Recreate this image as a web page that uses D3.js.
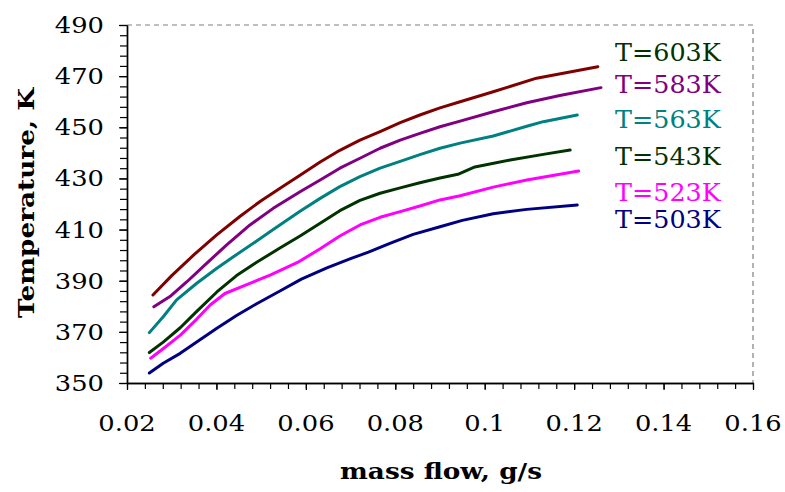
<!DOCTYPE html>
<html>
<head>
<meta charset="utf-8">
<script src="https://cdn.jsdelivr.net/npm/d3@7"></script>
<style>
  html, body { margin: 0; padding: 0; background: #fff; }
  svg { display: block; }
  text { font-family: "DejaVu Serif", "Liberation Serif", serif; }
</style>
</head>
<body>
<svg id="chart" width="785" height="492"></svg>
<script>
// Outlet temperature against mass flow, one series per inlet temperature.
// Each series is a list of [mass flow (g/s), temperature (K)] points.
const t603 = [[0.0258,384.4],[0.0300,392],[0.0350,400.2],[0.0400,407.8],[0.0453,415.2],[0.0500,421.3],[0.0550,427],[0.0587,431.2],[0.0632,436.4],[0.0676,441],[0.0721,445],[0.0766,448.3],[0.0811,451.8],[0.0855,454.8],[0.0900,457.6],[0.0945,460],[0.1019,463.9],[0.1116,469.2],[0.1253,473.7]];
const t583 = [[0.0260,379.8],[0.0296,383.8],[0.0334,389.6],[0.0378,396.8],[0.0423,404],[0.0475,411.8],[0.0527,418.3],[0.0587,424.8],[0.0632,429.4],[0.0676,434],[0.0721,437.9],[0.0766,441.8],[0.0811,445],[0.0855,447.6],[0.0900,450.2],[0.0945,452.4],[0.1019,456.1],[0.1094,459.6],[0.1168,462.4],[0.1260,465.5]];
const t563 = [[0.0250,369.7],[0.0281,375.9],[0.0311,382.5],[0.0356,389],[0.0401,394.9],[0.0438,399.4],[0.0490,405.5],[0.0527,410],[0.0587,417.2],[0.0632,422.2],[0.0676,426.8],[0.0721,430.7],[0.0766,434],[0.0811,436.7],[0.0855,439.3],[0.0900,441.8],[0.0945,443.8],[0.1019,446.6],[0.1094,450.4],[0.1131,452.2],[0.1207,454.8]];
const t543 = [[0.0250,361.9],[0.0281,366],[0.0319,371.6],[0.0356,378],[0.0401,385.6],[0.0445,392],[0.0490,397.2],[0.0542,402.8],[0.0587,407.5],[0.0632,412.5],[0.0676,417.4],[0.0721,421.4],[0.0766,424.2],[0.0811,426.3],[0.0855,428.3],[0.0900,430.2],[0.0940,431.6],[0.0978,434.5],[0.1057,437.2],[0.1131,439.4],[0.1191,441.1]];
const t523 = [[0.0253,359.7],[0.0285,364],[0.0320,368.8],[0.0356,375],[0.0386,380.5],[0.0419,385],[0.0468,388.5],[0.0520,392.2],[0.0585,397.5],[0.0632,402.5],[0.0676,407.5],[0.0721,411.8],[0.0766,414.8],[0.0811,417],[0.0855,419.2],[0.0900,421.6],[0.0945,423.2],[0.1019,426.6],[0.1094,429.4],[0.1210,432.9]];
const t503 = [[0.0250,353.9],[0.0281,357.7],[0.0319,361.6],[0.0360,366.5],[0.0401,371.4],[0.0445,376.4],[0.0490,381],[0.0542,386],[0.0590,390.6],[0.0647,395],[0.0700,398.6],[0.0740,401.2],[0.0788,404.6],[0.0840,408.1],[0.0900,411.1],[0.0950,413.6],[0.1019,416.2],[0.1094,417.9],[0.1207,419.6]];

const seriesNames  = ["T=603K", "T=583K", "T=563K", "T=543K", "T=523K", "T=503K"];
const seriesData   = [t603, t583, t563, t543, t523, t503];
const lineColors   = ["#800000", "#800080", "#008080", "#003300", "#ff00ff", "#000080"];
const labelColors  = ["#003300", "#800080", "#008080", "#003300", "#ff00ff", "#000080"];

const xTicks = [0.02, 0.04, 0.06, 0.08, 0.10, 0.12, 0.14, 0.16];
const xTickLabels = ["0.02", "0.04", "0.06", "0.08", "0.1", "0.12", "0.14", "0.16"];
const yTicks = [350, 370, 390, 410, 430, 450, 470, 490];

const svg = d3.select("#chart");

const x = d3.scaleLinear().domain([0.02, 0.16]).range([127, 753]);
const y = d3.scaleLinear().domain([350, 490]).range([383, 25]);

// dashed top and right frame of the plot area
svg.append("path")
  .attr("d", `M${x(0.02)},${y(490)}H${x(0.16)}V${y(350)}`)
  .attr("fill", "none")
  .attr("stroke", "#808080")
  .attr("stroke-width", 1.2)
  .attr("stroke-dasharray", "5,4");

// minor and major ticks
const xMinor = d3.range(0, 36).map(i => 0.02 + i * 0.004);
const yMinor = d3.range(0, 36).map(i => 350 + i * 4);

function styleAxis(g) {
  g.select(".domain").attr("stroke", "#000").attr("stroke-width", 1.4);
  g.selectAll(".tick line").attr("stroke", "#000").attr("stroke-width", 1.2);
  g.selectAll(".tick text").remove();
}

svg.append("g")
  .attr("transform", `translate(0,${y(350)})`)
  .call(d3.axisBottom(x).tickValues(xMinor).tickSize(6).tickSizeOuter(0))
  .call(styleAxis);
svg.append("g")
  .attr("transform", `translate(0,${y(350)})`)
  .call(d3.axisBottom(x).tickValues(xTicks).tickSize(7).tickSizeOuter(0))
  .call(styleAxis);

svg.append("g")
  .attr("transform", `translate(${x(0.02)},0)`)
  .call(d3.axisLeft(y).tickValues(yMinor).tickSize(7).tickSizeOuter(0))
  .call(styleAxis);
svg.append("g")
  .attr("transform", `translate(${x(0.02)},0)`)
  .call(d3.axisLeft(y).tickValues(yTicks).tickSize(8).tickSizeOuter(0))
  .call(styleAxis);

// tick labels, set in a slightly widened serif face
const stretch = 1.17;
svg.append("g").selectAll("g")
  .data(xTicks)
  .join("g")
  .attr("transform", d => `translate(${x(d)},431) scale(${stretch},1)`)
  .append("text")
  .attr("text-anchor", "middle")
  .attr("font-size", 22)
  .attr("fill", "#000")
  .text((d, i) => xTickLabels[i]);

svg.append("g").selectAll("g")
  .data(yTicks)
  .join("g")
  .attr("transform", d => `translate(104,${y(d) + 8}) scale(${stretch},1)`)
  .append("text")
  .attr("text-anchor", "end")
  .attr("font-size", 22)
  .attr("fill", "#000")
  .text(d => d);

// axis titles
svg.append("g")
  .attr("transform", `translate(441,479) scale(${stretch},1)`)
  .append("text")
  .attr("text-anchor", "middle")
  .attr("font-size", 22.5)
  .attr("font-weight", "bold")
  .attr("fill", "#000")
  .text("mass flow, g/s");

svg.append("g")
  .attr("transform", `translate(34,203) rotate(-90) scale(${stretch},1)`)
  .append("text")
  .attr("text-anchor", "middle")
  .attr("font-size", 22.5)
  .attr("font-weight", "bold")
  .attr("fill", "#000")
  .text("Temperature, K");

// series lines
const line = d3.line().x(d => x(d[0])).y(d => y(d[1]));
svg.append("g").selectAll("path")
  .data(seriesData)
  .join("path")
  .attr("d", line)
  .attr("fill", "none")
  .attr("stroke", (d, i) => lineColors[i])
  .attr("stroke-width", 3)
  .attr("stroke-linejoin", "round")
  .attr("stroke-linecap", "round");

// series labels placed beside the line ends
const labelBaselines = [61, 92.5, 128, 165, 201, 228];
svg.append("g").selectAll("g")
  .data(seriesNames)
  .join("g")
  .attr("transform", (d, i) => `translate(615,${labelBaselines[i]}) scale(1.06,1)`)
  .append("text")
  .attr("font-size", 24)
  .attr("fill", (d, i) => labelColors[i])
  .text(d => d);
</script>
</body>
</html>
